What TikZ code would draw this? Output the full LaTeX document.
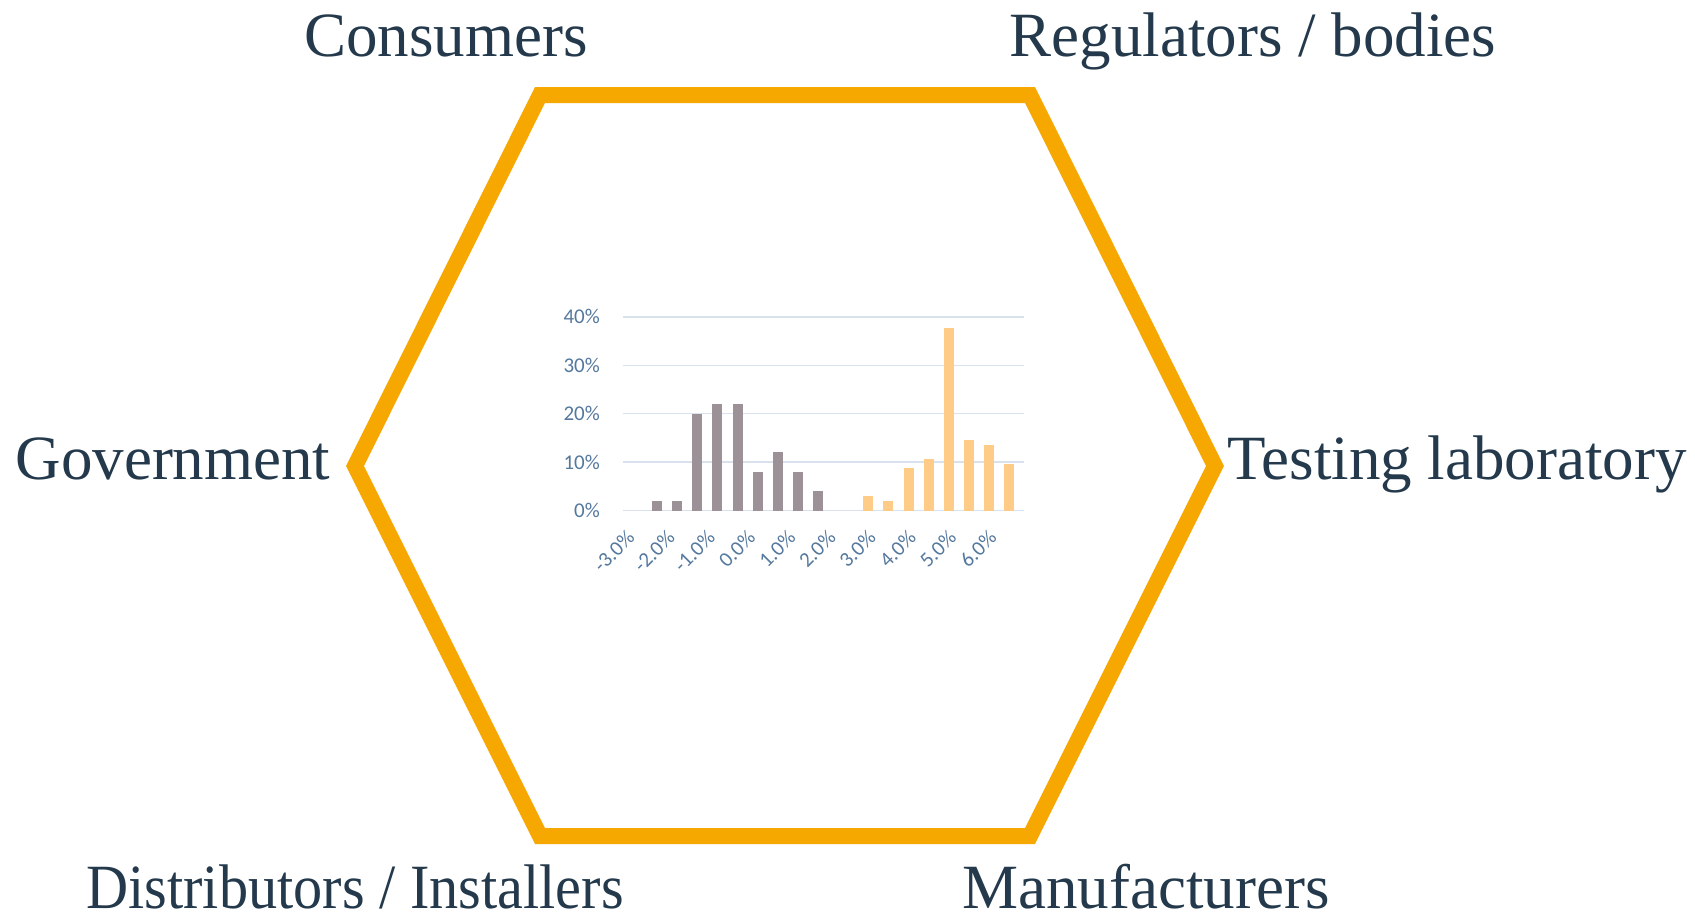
\documentclass[tikz,border=0pt]{standalone}
\usepackage{fontspec}
\setmainfont{Liberation Serif}
\newfontfamily\chartfont{Carlito}
\definecolor{hexorange}{HTML}{F6A800}
\definecolor{labelink}{HTML}{243A4C}
\definecolor{axisink}{HTML}{55799E}
\definecolor{gridink}{HTML}{D9E2EC}
\definecolor{bargray}{HTML}{9C9196}
\definecolor{barorange}{HTML}{FFCC88}
\begin{document}
\begin{tikzpicture}[x=1pt,y=-1pt,
  lbl/.style={font=\fontsize{63}{70}\selectfont, text=labelink, anchor=base, inner sep=0pt},
  ylbl/.style={font=\chartfont\fontsize{21}{24}\selectfont, text=axisink, anchor=east, inner sep=0pt},
  xlbl/.style={font=\chartfont\fontsize{21}{24}\selectfont, text=axisink, anchor=east, inner sep=0pt, rotate=45},
  gridline/.style={draw=gridink, line width=1.5pt},
  hexline/.style={draw=hexorange, line width=16pt, line join=miter}]
\useasboundingbox (0,0) rectangle (1695,918);
\fill[white] (0,0) rectangle (1695,918);
% hexagon
\path[hexline] (540,95) -- (1030,95) -- (1215,466) -- (1030,836) -- (540,836) -- (355,466) -- cycle;
% labels
\node[lbl] (consumers) at (446,56) {Consumers};
\node[lbl] (regulators) at (1253,56) {Regulators / bodies};
\node[lbl] (government) at (173,479) {Government};
\node[lbl] (testing) at (1457,479) {Testing laboratory};
\node[lbl] (distributors) at (355,908) {\scalebox{0.925}[1]{Distributors / Installers}};
\node[lbl] (manufacturers) at (1146,908) {Manufacturers};
% chart gridlines and y labels
\foreach \v/\t in {0/0\%,10/10\%,20/20\%,30/30\%,40/40\%}{
  \path[gridline] (623,{510.5-4.84*\v}) -- (1024,{510.5-4.84*\v});
  \node[ylbl] (y\v) at (600,{510.5-4.84*\v}) {\t};
}
% gray bars
\foreach \v [count=\i from 0] in {2,2,20,22,22,8,12,8,4}{
  \fill[bargray] ({656.7+20.2*\i-5},510.5) rectangle ({656.7+20.2*\i+5},{510.5-4.84*\v});
}
% orange bars
\foreach \v [count=\i from 0] in {2.9,2,8.8,10.6,37.8,14.6,13.5,9.7}{
  \fill[barorange] ({868.3+20.1*\i-5},510.5) rectangle ({868.3+20.1*\i+5},{510.5-4.84*\v});
}
% x labels
\foreach \t [count=\i from 0] in {-3.0\%,-2.0\%,-1.0\%,0.0\%,1.0\%,2.0\%,3.0\%,4.0\%,5.0\%,6.0\%}{
  \node[xlbl] (x\i) at ({631+40.2*\i},534) {\t};
}
\end{tikzpicture}
\end{document}
